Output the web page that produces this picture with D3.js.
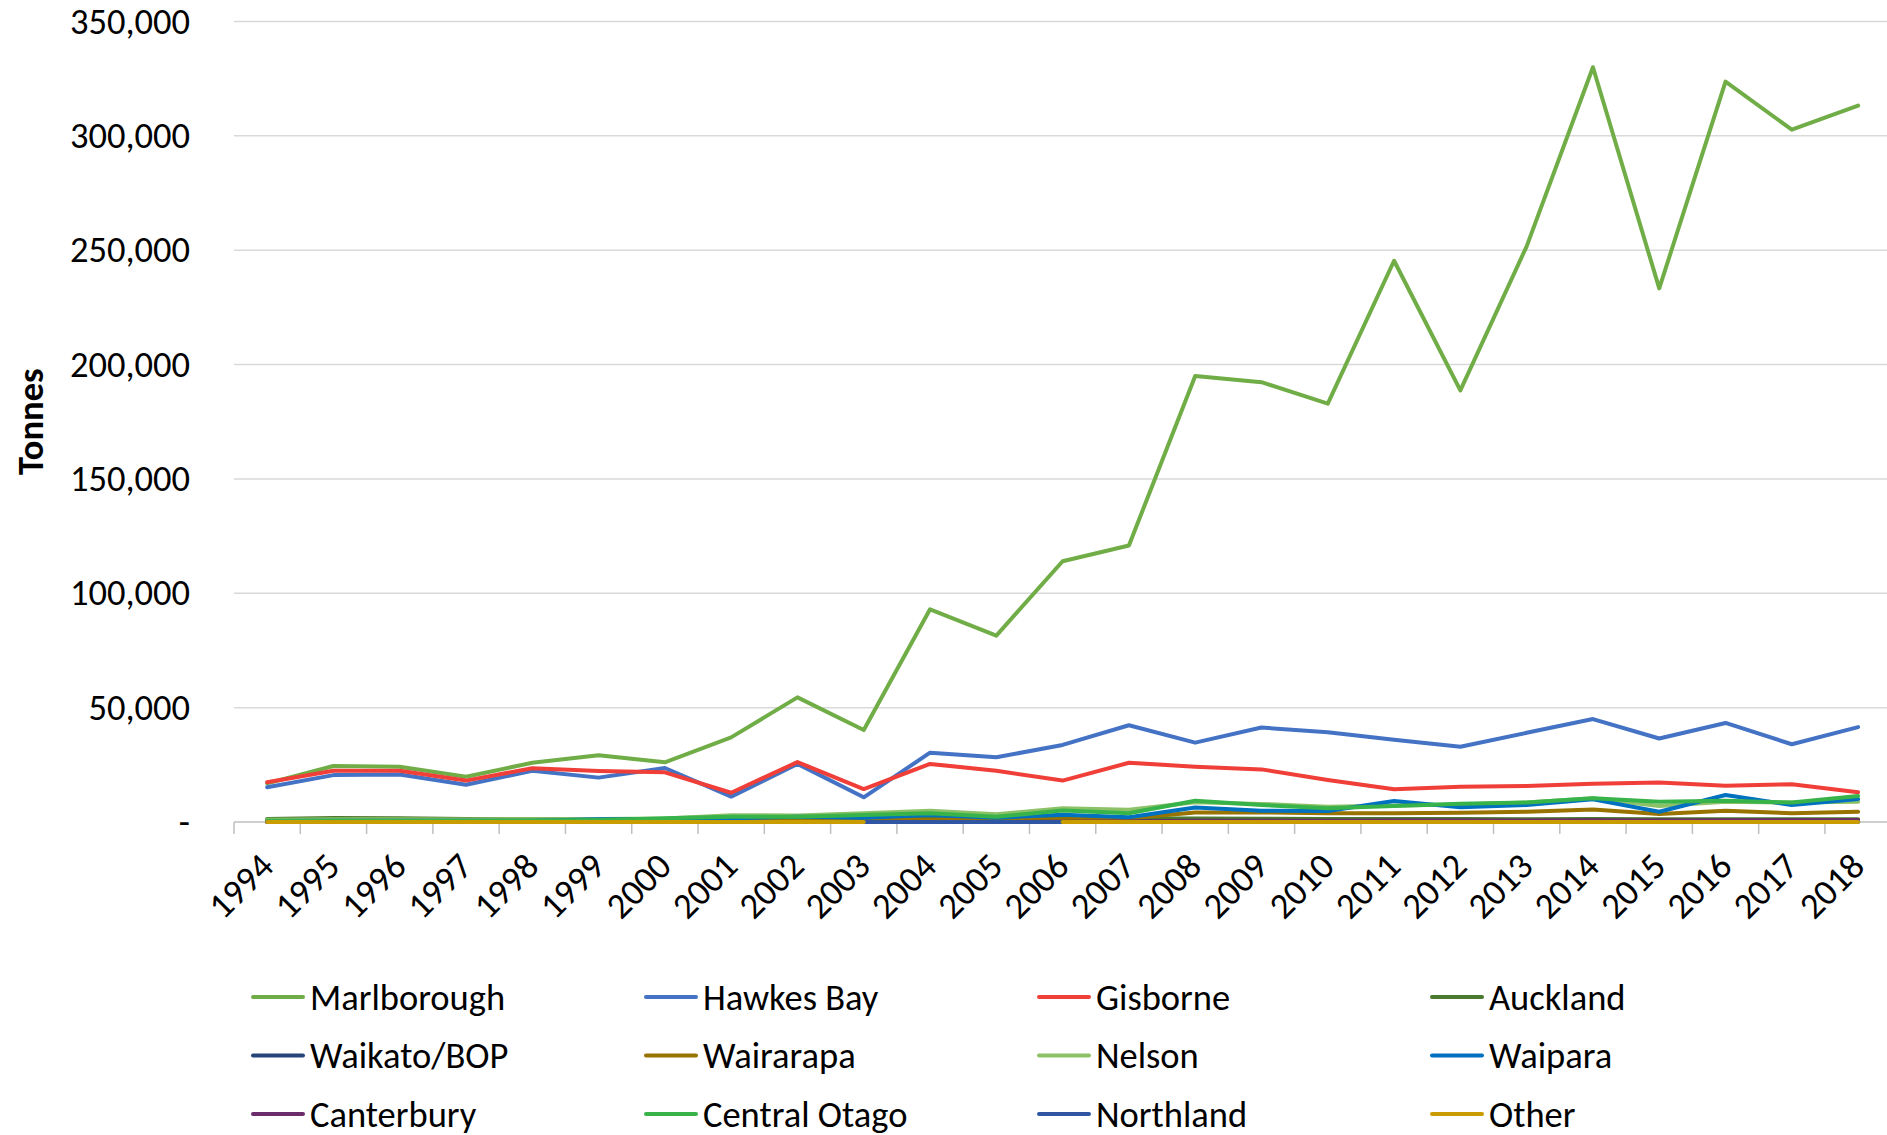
<!DOCTYPE html>
<html>
<head>
<meta charset="utf-8">
<script src="https://cdn.jsdelivr.net/npm/d3@7"></script>
<style>
  html, body { margin: 0; padding: 0; background: #fff; }
  svg { display: block; font-family: Carlito, Calibri, Lato, "Open Sans", sans-serif; }
</style>
</head>
<body>
<svg id="chart" width="1887" height="1135"></svg>
<script>
// Grape harvest by region, tonnes, 1994-2018
const years = [1994, 1995, 1996, 1997, 1998, 1999, 2000, 2001, 2002, 2003, 2004, 2005, 2006,
               2007, 2008, 2009, 2010, 2011, 2012, 2013, 2014, 2015, 2016, 2017, 2018];

const yTicks = [0, 50000, 100000, 150000, 200000, 250000, 300000, 350000];

const regionNames = ["Marlborough", "Hawkes Bay", "Gisborne", "Auckland",
                     "Waikato/BOP", "Wairarapa", "Nelson", "Waipara",
                     "Canterbury", "Central Otago", "Northland", "Other"];

const regionColors = ["#70ad47", "#4472c4", "#ef3f38", "#4a7a2e",
                      "#264478", "#997300", "#8cc168", "#0070c0",
                      "#6a2c6a", "#37b34a", "#2f55a3", "#c99c00"];

const marlborough = [16900, 24500, 24200, 19800, 25900, 29200, 26100, 37000, 54500, 40200,
                     93000, 81500, 114000, 120900, 195000, 192300, 182900, 245400, 188700, 251700,
                     330000, 233300, 323700, 302700, 313200];
const hawkesBay = [15200, 20500, 20800, 16300, 22400, 19400, 23600, 11100, 25400, 10800,
                   30300, 28300, 33700, 42300, 34700, 41300, 39200, 36000, 32900, 39000,
                   45000, 36500, 43300, 34000, 41500];
const gisborne = [17400, 22400, 22400, 18100, 23500, 22300, 21700, 12800, 26200, 14400,
                  25400, 22400, 18100, 25900, 24200, 23000, 18400, 14300, 15400, 15700,
                  16700, 17300, 15900, 16500, 13000];
const auckland = [1300, 1700, 1600, 1300, 1200, 1300, 1200, 1300, 1300, 1300,
                  1300, 1300, 1300, 1500, 1500, 1400, 1300, 1300, 1300, 1200,
                  1300, 1200, 1200, 1200, 1200];
const waikatoBop = [300, 300, 300, 300, 300, 300, 300, 300, 300, 300,
                    300, 300, 300, 300, 300, 300, 300, 300, 300, 300,
                    300, 300, 300, 300, 300];
const wairarapa = [900, 1000, 1000, 900, 800, 800, 800, 900, 900, 900,
                   1000, 900, 1200, 1600, 4200, 4200, 3800, 3800, 4000, 4500,
                   5500, 3500, 4900, 3800, 4500];
const nelson = [1000, 1200, 1200, 1100, 1200, 1300, 1500, 3000, 2800, 3800,
                4900, 3400, 6000, 5400, 8600, 7900, 6700, 7200, 7600, 8500,
                10400, 7000, 8900, 8500, 8900];
const waipara = [400, 500, 500, 500, 600, 1200, 1300, 1600, 2300, 1900,
                 3100, 1900, 3200, 2100, 6300, 4900, 4800, 9200, 6500, 7400,
                 9900, 4500, 11800, 7400, 10100];
const canterbury = [0, 0, 0, 0, 0, 0, 0, 0, 0, 0,
                    0, 0, 100, 200, 500, 600, 600, 700, 700, 700,
                    800, 700, 800, 800, 900];
const centralOtago = [500, 600, 600, 600, 700, 900, 1600, 2300, 2300, 3100,
                      3800, 2300, 5000, 3800, 9300, 7400, 6000, 7000, 8000, 8500,
                      10400, 8900, 9300, 8500, 11400];
const northland = [0, 0, 0, 0, 0, 0, 0, 0, 0, 0,
                   0, 0, 0, 0, 0, 0, 0, 0, 0, 0,
                   0, 0, 0, 0, 0];
const other = [0, 0, 0, 0, 0, 0, 0, 0, 0, 0,
               null, null, 0, 0, 0, 0, 0, 0, 0, 0,
               0, 0, 0, 0, 0];

const regionValues = [marlborough, hawkesBay, gisborne, auckland,
                      waikatoBop, wairarapa, nelson, waipara,
                      canterbury, centralOtago, northland, other];

const series = regionNames.map((name, i) => ({ name, color: regionColors[i], values: regionValues[i] }));

// ---- layout ----
const W = 1887, H = 1135;
const plotLeft = 234, plotTop = 21.5, plotBottom = 822;
const step = 66.29;
const fontSize = 36.5;

const svg = d3.select("#chart");

const x = d3.scaleBand().domain(years).range([plotLeft, plotLeft + step * years.length]).padding(0);
const y = d3.scaleLinear().domain([0, 350000]).range([plotBottom, plotTop]);
const cx = yr => x(yr) + x.bandwidth() / 2;

// horizontal gridlines
svg.append("g").selectAll("line")
  .data(yTicks.filter(v => v > 0))
  .join("line")
  .attr("x1", plotLeft).attr("x2", W)
  .attr("y1", d => y(d)).attr("y2", d => y(d))
  .attr("stroke", "#d9d9d9").attr("stroke-width", 1.5);

// y axis labels
const yAxis = d3.axisLeft(y)
  .tickValues(yTicks)
  .tickSize(0)
  .tickPadding(plotLeft - 190)
  .tickFormat(d => d === 0 ? "-" : d3.format(",")(d));
const gy = svg.append("g").attr("transform", `translate(${plotLeft},0)`).call(yAxis);
gy.select(".domain").remove();
gy.selectAll("text").attr("font-size", fontSize).attr("fill", "#000")
  .attr("font-family", "Carlito, Calibri, Lato, 'Open Sans', sans-serif");

// category axis line and tick marks at band edges
const gx = svg.append("g");
gx.append("line")
  .attr("x1", plotLeft).attr("x2", W)
  .attr("y1", plotBottom).attr("y2", plotBottom)
  .attr("stroke", "#bfbfbf").attr("stroke-width", 1.5);
gx.selectAll("line.tick")
  .data(years)
  .join("line")
  .attr("class", "tick")
  .attr("x1", d => x(d)).attr("x2", d => x(d))
  .attr("y1", plotBottom).attr("y2", plotBottom + 12)
  .attr("stroke", "#bfbfbf").attr("stroke-width", 1.5);

// rotated year labels
gx.selectAll("text")
  .data(years)
  .join("text")
  .attr("transform", d => `translate(${cx(d) + 8.5},${plotBottom + 46.5}) rotate(-45)`)
  .attr("text-anchor", "end")
  .attr("font-size", fontSize)
  .attr("fill", "#000")
  .text(d => d);

// series lines (later series drawn on top)
const line = d3.line()
  .defined(d => d != null)
  .x((d, i) => cx(years[i]))
  .y(d => y(d));

svg.append("g").selectAll("path")
  .data(series)
  .join("path")
  .attr("d", s => line(s.values))
  .attr("fill", "none")
  .attr("stroke", s => s.color)
  .attr("stroke-width", 4)
  .attr("stroke-linejoin", "round")
  .attr("stroke-linecap", "round");

// y axis title
svg.append("text")
  .attr("transform", `translate(30,${(plotTop + plotBottom) / 2}) rotate(-90)`)
  .attr("text-anchor", "middle")
  .attr("dominant-baseline", "central")
  .attr("font-size", fontSize)
  .attr("font-weight", "bold")
  .text("Tonnes");

// legend: 4 columns, 3 rows
const legend = svg.append("g").selectAll("g")
  .data(series)
  .join("g")
  .attr("transform", (s, i) => `translate(${253 + (i % 4) * 393},${997 + Math.floor(i / 4) * 58.5})`);
legend.append("line")
  .attr("x1", 0).attr("x2", 50)
  .attr("stroke", s => s.color)
  .attr("stroke-width", 4)
  .attr("stroke-linecap", "round");
legend.append("text")
  .attr("x", 57)
  .attr("dominant-baseline", "central")
  .attr("font-size", fontSize)
  .text(s => s.name);
</script>
</body>
</html>
